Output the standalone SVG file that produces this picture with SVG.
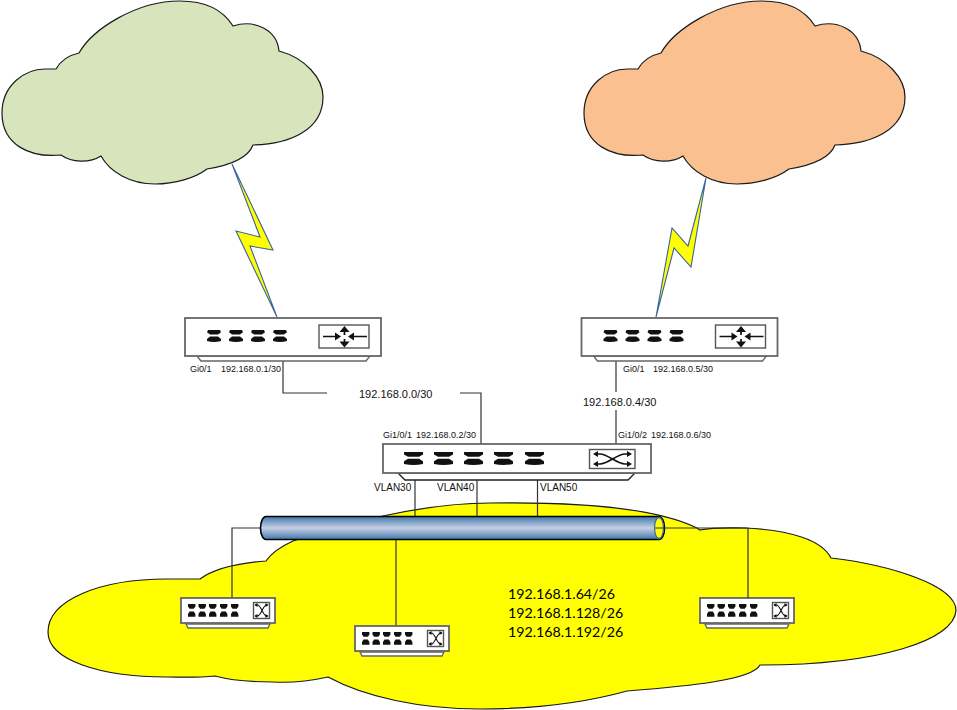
<svg xmlns="http://www.w3.org/2000/svg" xmlns:xlink="http://www.w3.org/1999/xlink" width="957" height="710" viewBox="0 0 957 710">
  <style>
    .cloud { stroke: #1a1a1a; stroke-width: 1.2; }
    .bolt { fill: #ffff00; stroke: #3a63a0; stroke-width: 1.1; stroke-linejoin: miter; }
    .link { fill: none; stroke: #333; stroke-width: 1.2; }
    .body { fill: #fff; stroke: #666; stroke-width: 1.8; }
    .foot { fill: #fff; stroke: #666; stroke-width: 1.4; }
    .icon { fill: #fff; stroke: #555; stroke-width: 1.4; }
    .glyph { fill: none; stroke: #111; stroke-width: 1.7; }
    .head { fill: #111; }
    .port { fill: #111; }
    text { font-family: "Liberation Sans", Arial, sans-serif; fill: #111; }
    .s9 { font-size: 9px; }
    .s10 { font-size: 10px; }
    .s11 { font-size: 11px; }
    .subnet { font-family: Lato, "Liberation Sans", sans-serif; font-size: 14.2px; fill: #000; }
  </style>
  <defs>
    <linearGradient id="tube" x1="0" y1="0" x2="0" y2="1">
      <stop offset="0" stop-color="#3f78ab"/>
      <stop offset="0.5" stop-color="#c6d0e4"/>
      <stop offset="1" stop-color="#3f78ab"/>
    </linearGradient>
    <path id="cloud-outline" d="M56,69 C61,60 70,55 79,53 C92,30 135,1 180,1 C205,1 223,10 233,26 C255,19 277,30 279,51 C305,58 323,78 323,97 C323,130 290,144 253,145 C248,158 232,165 207,169 C195,178 175,184 155,184 C130,184 110,172 101,156 C90,163 72,163 61,155 C30,158 2,145 2,113 C2,85 25,69 45,69 Z"/>
    <!-- one port of the large chassis: a flange pair, mirrored top and bottom -->
    <g id="port-large">
      <path class="port" d="M1,0 H13 L14,2.2 L11,4.6 H3 L0,2.2 Z"/>
      <path class="port" d="M3,6.600 H11 L14,9 V11 Q7,13.200 0,11 V9 Z"/>
    </g>
    <g id="port-wide">
      <path class="port" d="M0,0 H19 V2.400 L15,4.800 H4 L0,2.400 Z"/>
      <path class="port" d="M4,6.800 H15 L19,9.200 V12 Q9.500,14 0,12 V9.200 Z"/>
    </g>
    <g id="port-small">
      <path class="port" d="M0,0 H7.400 V2.500 L5.800,4.800 H1.600 L0,2.500 Z"/>
      <path class="port" d="M1.600,7.600 H5.800 L7.400,10 V12.800 H0 V10 Z"/>
    </g>
    <g id="router">
      <path class="foot" d="M197,356 H370 L366,361 H201 Z"/>
      <rect class="body" x="185" y="318" width="196" height="38"/>
      <use href="#port-large" x="207" y="330"/>
      <use href="#port-large" x="229" y="330"/>
      <use href="#port-large" x="251" y="330"/>
      <use href="#port-large" x="273" y="330"/>
      <rect class="icon" x="319" y="325" width="50" height="23"/>
      <path class="glyph" d="M323,336.500 H337 M367,336.500 H352 M344.500,331 V335 M344.500,339 V344"/>
      <path class="head" d="M341,336.500 L335,332.500 V340.500 Z M348,336.500 L354,332.500 V340.500 Z M344.500,326 L339.500,332 H349.500 Z M344.500,347.500 L339.500,341.500 H349.500 Z"/>
    </g>
    <g id="small-switch">
      <path class="foot" d="M186,624 H270 L268,628 H188 Z"/>
      <rect class="body" x="181" y="598" width="94" height="25"/>
      <use href="#port-small" x="188" y="604"/>
      <use href="#port-small" x="198.500" y="604"/>
      <use href="#port-small" x="209" y="604"/>
      <use href="#port-small" x="220" y="604"/>
      <use href="#port-small" x="231" y="604"/>
      <rect class="icon" x="253.500" y="602.500" width="16" height="16"/>
      <path class="glyph" style="stroke-width:1.100" d="M255,605 H257.500 C261,605 263,616 266.500,616 H268 M255,616 H257.500 C261,616 263,605 266.500,605 H268"/>
      <path class="head" d="M268.500,605 L265.500,603 V607 Z M268.500,616 L265.500,614 V618 Z M254.500,605 L257.500,603 V607 Z M254.500,616 L257.500,614 V618 Z"/>
    </g>
  </defs>

  <rect width="957" height="710" fill="#fff"/>

  <g id="lan-cloud">
    <path class="cloud" fill="#ffff00" d="M200,579 C215,568 240,563 266,561 C272,552 282,546 293,541 C340,525 420,503 490,503 C560,502 650,505 697,528 L700,530 C715,527 730,528 744,528 C790,530 822,540 831,558 C890,565 955,585 956,610 C955,640 880,665 760,665 C752,680 690,686 627,691 C580,704 530,709 480,709 C420,709 365,697 328,677 C310,681 292,683 273,682 C250,682 230,680 215,676 C195,678 180,677 167,677 C100,677 48,660 48,632 C48,600 100,579 167,579 Z"/>
  </g>
  <g id="cloud-left">
    <use href="#cloud-outline" class="cloud" fill="#d8e4bc"/>
  </g>
  <g id="cloud-right">
    <use href="#cloud-outline" class="cloud" fill="#fac090" x="582"/>
  </g>

  <g id="connectors">
    <polygon class="bolt" points="232,164 273,250 250,246 277,317 236,231 260,237"/>
    <polygon class="bolt" points="706,178 688,246 672,228 656,317 674,248 691,267"/>
    <path class="link" d="M283,357 V393 H327 M460,393 H481 V444"/>
    <path class="link" d="M616,357 V392 M616,410 V444"/>
    <path class="link" d="M415,480 V516 M477,480 V516 M537.500,480 V516"/>
    <path class="link" d="M260,528 H232 V598"/>
    <path class="link" d="M396,540 V626"/>
  </g>

  <g id="router-left"><use href="#router"/></g>
  <g id="router-right"><use href="#router" x="396.500"/></g>

  <g id="core-switch">
    <path class="foot" d="M398,473 H635 L628,480 H405 Z" style="stroke:#222"/>
    <rect class="body" x="383" y="444" width="268" height="29"/>
    <use href="#port-wide" x="404" y="452"/>
    <use href="#port-wide" x="434" y="452"/>
    <use href="#port-wide" x="464" y="452"/>
    <use href="#port-wide" x="494" y="452"/>
    <use href="#port-wide" x="525" y="452"/>
    <rect class="icon" x="589.500" y="449.500" width="45.500" height="19"/>
    <path class="glyph" d="M595,454 H600 C608,454 617,464 625,464 H630 M595,464 H600 C608,464 617,454 625,454 H630"/>
    <path class="head" d="M593,454 L598,451 V457 Z M593,464 L598,461 V467 Z M632,454 L627,451 V457 Z M632,464 L627,461 V467 Z"/>
  </g>

  <g id="access-switch-1"><use href="#small-switch"/></g>
  <g id="access-switch-2"><use href="#small-switch" x="174" y="28"/></g>
  <g id="access-switch-3"><use href="#small-switch" x="519"/></g>

  <g id="vlan-pipe">
    <path d="M266,516.500 H659 A5.500,11.500 0 0 1 659,539.500 H266 A5.500,11.500 0 0 1 266,516.500 Z" fill="url(#tube)" stroke="#000" stroke-width="1.6"/>
    <ellipse cx="659" cy="528" rx="4.500" ry="10.500" fill="#ffff00" stroke="#3f6f9f" stroke-width="1.3"/>
    <path class="link" d="M655,528 H748 V598"/>
  </g>

  <g id="labels">
    <text class="s9" x="190" y="372" fill="#1b3f73">Gi0/1</text>
    <text class="s9" x="221" y="372">192.168.0.1/30</text>
    <text class="s11" x="359" y="398">192.168.0.0/30</text>
    <text class="s9" x="623" y="372" fill="#1b3f73">Gi0/1</text>
    <text class="s9" x="653" y="372">192.168.0.5/30</text>
    <text class="s11" x="583" y="406">192.168.0.4/30</text>
    <text class="s9" x="383" y="438">Gi1/0/1</text>
    <text class="s9" x="416" y="438">192.168.0.2/30</text>
    <text class="s9" x="618" y="438">Gi1/0/2</text>
    <text class="s9" x="651" y="438">192.168.0.6/30</text>
    <text class="s10" x="374" y="491">VLAN30</text>
    <text class="s10" x="437" y="491">VLAN40</text>
    <text class="s10" x="540" y="491">VLAN50</text>
    <text class="subnet" x="508" y="599">192.168.1.64/26</text>
    <text class="subnet" x="508" y="618">192.168.1.128/26</text>
    <text class="subnet" x="508" y="637">192.168.1.192/26</text>
  </g>
</svg>
